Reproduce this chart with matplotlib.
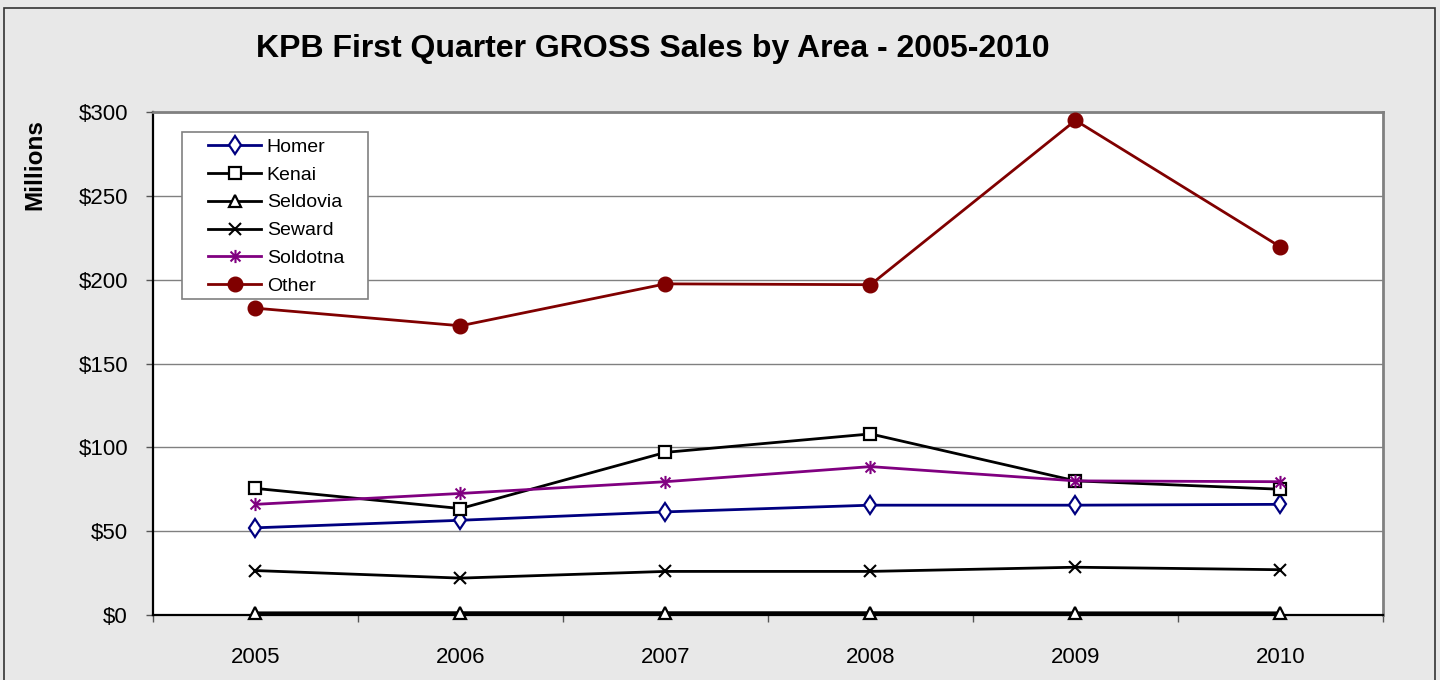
import numpy as np
import matplotlib
matplotlib.use("Agg")
import matplotlib.pyplot as plt
from matplotlib.path import Path
from matplotlib.patches import Rectangle

plt.rcParams["font.family"] = ["Liberation Sans", "DejaVu Sans"]

# data, $ millions
years = ["2005", "2006", "2007", "2008", "2009", "2010"]
homer = [52.0, 56.5, 61.5, 65.5, 65.5, 66.0]
kenai = [75.5, 63.5, 97.0, 108.0, 80.0, 75.0]
seldovia = [1.3, 1.4, 1.4, 1.4, 1.3, 1.3]
seward = [26.5, 22.0, 26.0, 26.0, 28.5, 27.0]
soldotna = [66.0, 72.5, 79.5, 88.5, 80.0, 79.5]
other = [183.0, 172.5, 197.5, 197.0, 295.0, 219.5]

yticks = [0, 50, 100, 150, 200, 250, 300]
ytick_labels = ["$0", "$50", "$100", "$150", "$200", "$250", "$300"]

# Excel-style star: vertical bar plus an x
star = Path([(0, -1), (0, 1), (-0.75, -0.75), (0.75, 0.75), (-0.75, 0.75), (0.75, -0.75)],
            [Path.MOVETO, Path.LINETO] * 3)

series = [
    ("Homer", homer, "#000080", dict(marker="d", ms=9.5, mfc="white", mec="#000080", mew=1.6)),
    ("Kenai", kenai, "black", dict(marker="s", ms=9, mfc="white", mec="black", mew=1.6)),
    ("Seldovia", seldovia, "black", dict(marker="^", ms=9, mfc="white", mec="black", mew=1.6)),
    ("Seward", seward, "black", dict(marker="x", ms=8.5, mec="black", mew=1.5)),
    ("Soldotna", soldotna, "#800080", dict(marker=star, ms=9.5, mec="#800080", mew=1.5)),
    ("Other", other, "#800000", dict(marker="o", ms=10.5, mfc="#800000", mec="#800000")),
]

W, H = 1440, 680
fig = plt.figure(figsize=(14.4, 6.8), dpi=100)
fig.patch.set_facecolor("#E8E8E8")
fig.patches.append(Rectangle((4 / W, -0.05), 1431 / W, 1.05 - 8 / H,
                             transform=fig.transFigure, fill=False,
                             edgecolor="#333333", lw=1.2))

ax = fig.add_axes([153 / W, 1 - 615 / H, 1230 / W, 503 / H])
ax.set_facecolor("white")

x = np.arange(len(years))
for name, vals, color, style in series:
    ax.plot(x, vals, color=color, lw=2.0, label=name, zorder=3, clip_on=False, **style)

ax.set_xlim(-0.5, len(years) - 0.5)
ax.set_ylim(0, 300)
ax.set_yticks(yticks)
ax.set_yticklabels(ytick_labels)
ax.set_xticks(x)
ax.set_xticklabels(years)
ax.set_xticks(np.arange(-0.5, len(years), 1.0), minor=True)
ax.tick_params(axis="x", which="major", length=0, pad=23, labelsize=16)
ax.tick_params(axis="x", which="minor", length=5, width=1, color="#555555", direction="out")
ax.tick_params(axis="y", length=5, width=1, color="#555555", direction="out", pad=13, labelsize=16)

ax.grid(axis="y", color="#808080", lw=1.0, zorder=0)
ax.set_axisbelow(True)
for side in ("left", "bottom"):
    ax.spines[side].set_color("black")
    ax.spines[side].set_linewidth(1.6)
for side in ("top", "right"):
    ax.spines[side].set_color("#808080")
    ax.spines[side].set_linewidth(2.0)

# legend box drawn separately so the handles can sit well inside it
fig.patches.append(Rectangle((182 / W, 1 - 299 / H), 186 / W, 167 / H,
                             transform=fig.transFigure, facecolor="white",
                             edgecolor="#808080", lw=1.2, zorder=4))
leg = fig.legend(loc="upper left", bbox_to_anchor=(208 / W, 1 - 138 / H),
                 fontsize=14, frameon=False, handlelength=2.75, borderpad=0,
                 borderaxespad=0, handletextpad=0.27, labelspacing=0.53)
leg.set_zorder(5)

fig.text(653 / W, 1 - 49 / H, "KPB First Quarter GROSS Sales by Area - 2005-2010",
         ha="center", va="center", fontsize=23, fontweight="bold")
fig.text(35 / W, 1 - 165 / H, "Millions", rotation=90, ha="center", va="center",
         fontsize=17.5, fontweight="bold")

fig.savefig("out.png", dpi=100, facecolor=fig.get_facecolor())
